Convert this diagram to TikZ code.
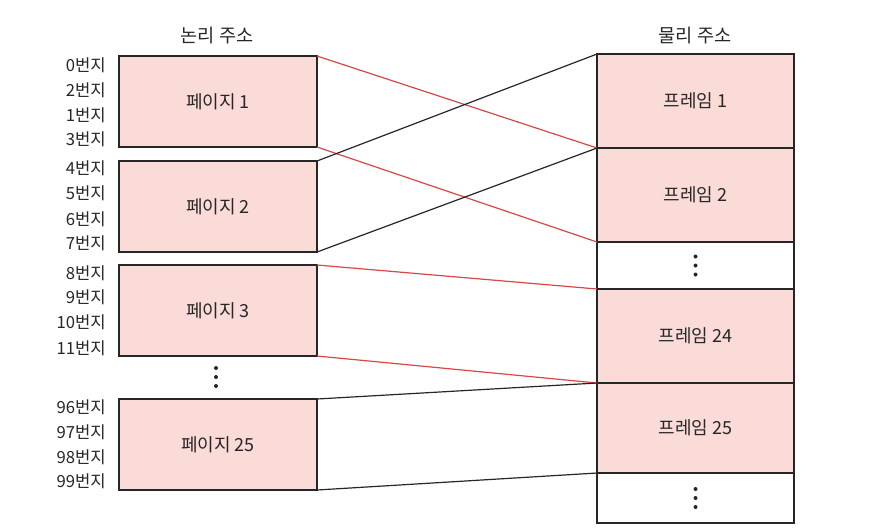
\documentclass[tikz,border=0pt]{standalone}
\usepackage{fontspec}
\usepackage{xcolor}
\usepackage{tikz}
\newfontfamily\krfont{Noto Sans CJK KR}
\definecolor{pagepink}{RGB}{250, 219, 215}
\definecolor{linkred}{RGB}{216, 70, 70}
\definecolor{ink}{RGB}{38, 38, 38}

\begin{document}
\begin{tikzpicture}[x=0.75pt,y=0.75pt,yscale=-1,xscale=1,
  font=\krfont\fontsize{12.5}{14}\selectfont, text=ink,
  pagebox/.style={draw=ink, fill=pagepink, line width=0.9pt, inner sep=0pt, outer sep=0pt, anchor=north west, minimum width=148.5pt, minimum height=68.25pt, font=\krfont\fontsize{13.5}{15}\selectfont},
  framebox/.style={draw=ink, fill=pagepink, line width=0.9pt, inner sep=0pt, outer sep=0pt, anchor=north west, minimum width=147.75pt, font=\krfont\fontsize{13.5}{15}\selectfont},
  addr/.style={anchor=east, inner sep=0.75pt},
  link/.style={line width=0.9pt}]
\useasboundingbox (0,0) rectangle (887,529);

% Text Node
\draw (217,36) node (logtitle) [font=\krfont\fontsize{14}{16}\selectfont] {논리 주소};
% Text Node
\draw (695,36) node (phytitle) [font=\krfont\fontsize{14}{16}\selectfont] {물리 주소};

%Shape: Rectangle
\node (page1) [pagebox] at (119,56) {페이지 1};
%Shape: Rectangle
\node (page2) [pagebox] at (119,161) {페이지 2};
%Shape: Rectangle
\node (page3) [pagebox] at (119,265) {페이지 3};
%Shape: Rectangle
\node (page25) [pagebox] at (119,399) {페이지 25};

%Shape: Rectangle
\node (frame1) [framebox, minimum height=70.5pt] at (597,54) {프레임 1};
%Shape: Rectangle
\node (frame2) [framebox, minimum height=70.5pt] at (597,148) {프레임 2};
%Shape: Rectangle
\node (gap1) [framebox, fill=white, minimum height=35.25pt] at (597,242) {};
%Shape: Rectangle
\node (frame24) [framebox, minimum height=70.5pt] at (597,289) {프레임 24};
%Shape: Rectangle
\node (frame25) [framebox, minimum height=67.5pt] at (597,383) {프레임 25};
%Shape: Rectangle
\node (gap2) [framebox, fill=white, minimum height=37.5pt] at (597,473) {};

% Text Node
\node (a0) [addr] at (107,65) {0번지};
\node (a2) [addr] at (107,90) {2번지};
\node (a1) [addr] at (107,115) {1번지};
\node (a3) [addr] at (107,139) {3번지};
% Text Node
\node (a4) [addr] at (107,168) {4번지};
\node (a5) [addr] at (107,193) {5번지};
\node (a6) [addr] at (107,219) {6번지};
\node (a7) [addr] at (107,243) {7번지};
% Text Node
\node (a8) [addr] at (107,273) {8번지};
\node (a9) [addr] at (107,297) {9번지};
\node (a10) [addr] at (107,322) {10번지};
\node (a11) [addr] at (107,348) {11번지};
% Text Node
\node (a96) [addr] at (107,407) {96번지};
\node (a97) [addr] at (107,432) {97번지};
\node (a98) [addr] at (107,457) {98번지};
\node (a99) [addr] at (107,481) {99번지};

%Dots
\fill[ink] (216,368) circle (2) (216,377) circle (2) (216,386) circle (2);
\fill[ink] (gap1.center) ++(0,-9) circle (2) ++(0,9) circle (2) ++(0,9) circle (2);
\fill[ink] (gap2.center) ++(0,-9) circle (2) ++(0,9) circle (2) ++(0,9) circle (2);

%Straight Lines
\draw [link, linkred] (page1.north east) -- (frame1.south west);
\draw [link, linkred] (page1.south east) -- (frame2.south west);
\draw [link, ink] (page2.north east) -- (frame1.north west);
\draw [link, ink] (page2.south east) -- (frame2.north west);
\draw [link, linkred] (page3.north east) -- (frame24.north west);
\draw [link, linkred] (page3.south east) -- (frame24.south west);
\draw [link, ink] (page25.north east) -- (frame25.north west);
\draw [link, ink] (page25.south east) -- (frame25.south west);

\end{tikzpicture}
\end{document}
